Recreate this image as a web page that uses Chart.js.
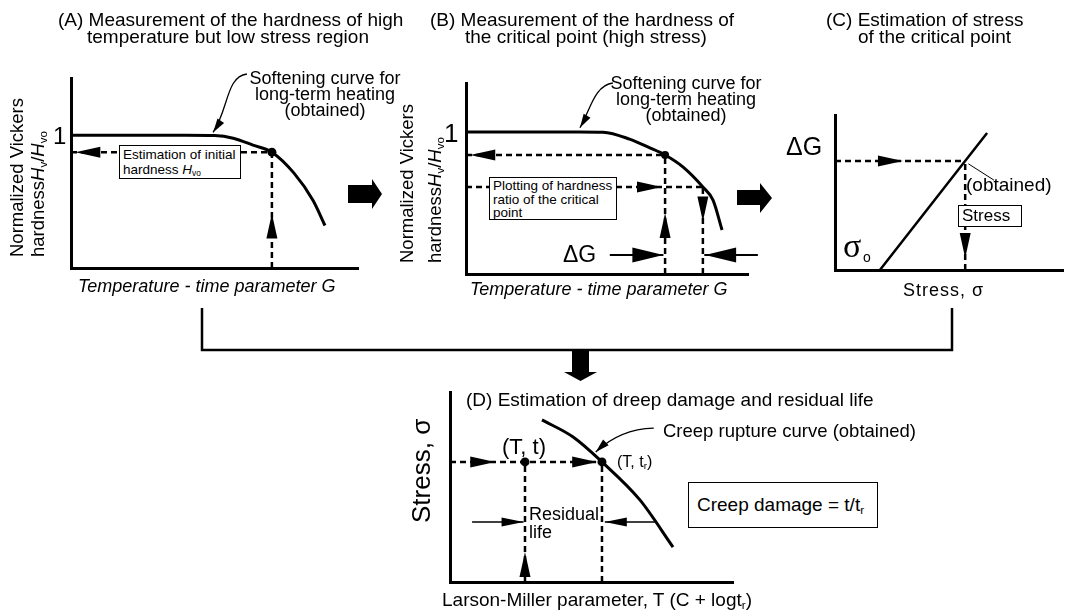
<!DOCTYPE html>
<html>
<head>
<meta charset="utf-8">
<script src="https://cdn.jsdelivr.net/npm/chart.js@4"></script>
<style>
body{margin:0;background:#fff}
#page{position:relative;width:1069px;height:610px;overflow:hidden;font-family:"Liberation Sans",Arial,sans-serif;color:#000}
#page canvas,#page svg{position:absolute;left:0;top:0}
.t{position:absolute;white-space:nowrap;line-height:1.15;z-index:2}
.rot{transform-origin:left top;transform:rotate(-90deg)}
.box{position:absolute;border:1.3px solid #000;background:#fff;z-index:2;box-sizing:border-box;white-space:nowrap}
sub{font-size:62%;vertical-align:-0.25em;line-height:0}
</style>
</head>
<body>
<div id="page">
<svg width="1069" height="610">
  <polygon points="348,185 372,185 372,179 382,194 372,209 372,203 348,203" fill="#000"/>
  <polygon points="737,190 760,190 760,183 772,198 760,213 760,205 737,205" fill="#000"/>
  <polyline points="202,308 202,350 952,350 952,308" fill="none" stroke="#000" stroke-width="2.5"/>
  <polygon points="572,350 589,350 589,372 597,372 580.5,381 564,372 572,372" fill="#000"/>
</svg>
<canvas id="cA" width="1069" height="610"></canvas>
<canvas id="cB" width="1069" height="610"></canvas>
<canvas id="cC" width="1069" height="610"></canvas>
<canvas id="cD" width="1069" height="610"></canvas>

<!-- titles -->
<div class="t" style="left:58px;top:9px;font-size:19px">(A) Measurement of the hardness of high</div>
<div class="t" style="left:87px;top:26px;font-size:19px">temperature but low stress region</div>
<div class="t" style="left:430px;top:9px;font-size:19px">(B) Measurement of the hardness of</div>
<div class="t" style="left:465px;top:26px;font-size:19px">the critical point (high stress)</div>
<div class="t" style="left:826px;top:9px;font-size:19px">(C) Estimation of stress</div>
<div class="t" style="left:858px;top:26px;font-size:19px">of the critical point</div>

<!-- panel A -->
<div class="t" style="left:225px;top:70px;width:200px;text-align:center;font-size:18px;line-height:16px">Softening curve for<br>long-term heating<br>(obtained)</div>
<div class="t" style="left:53px;top:122px;font-size:24px">1</div>
<div class="box" style="left:119px;top:145px;width:122px;height:34px;font-size:13.5px;line-height:15px;padding:1px 0 0 3px">Estimation of initial<br>hardness <i>H</i><sub>vo</sub></div>
<div class="t rot" style="left:6px;top:257px;font-size:18.5px;line-height:21px">Normalized Vickers</div>
<div class="t rot" style="left:27px;top:257px;font-size:18.5px;line-height:21px">hardness<i>H</i><sub>v</sub>/<i>H</i><sub>vo</sub></div>
<div class="t" style="left:78px;top:276px;font-size:18px;font-style:italic">Temperature - time parameter G</div>

<!-- panel B -->
<div class="t" style="left:586px;top:75px;width:200px;text-align:center;font-size:18px;line-height:16px">Softening curve for<br>long-term heating<br>(obtained)</div>
<div class="t" style="left:444px;top:119px;font-size:26px">1</div>
<div class="box" style="left:489px;top:177px;width:128px;height:43px;font-size:13.5px;line-height:13.5px;padding:1px 0 0 3px">Plotting of hardness<br>ratio of the critical<br>point</div>
<div class="t rot" style="left:396px;top:263px;font-size:18.5px;line-height:21px">Normalized Vickers</div>
<div class="t rot" style="left:424px;top:263px;font-size:18.5px;line-height:21px">hardness<i>H</i><sub>v</sub>/<i>H</i><sub>vo</sub></div>
<div class="t" style="left:563px;top:241px;font-size:23px">ΔG</div>
<div class="t" style="left:470px;top:279px;font-size:18px;font-style:italic">Temperature - time parameter G</div>

<!-- panel C -->
<div class="t" style="left:786px;top:132px;font-size:25px">ΔG</div>
<div class="t" style="left:966px;top:174px;font-size:19px">(obtained)</div>
<div class="box" style="left:958px;top:205px;width:64px;height:22px;font-size:17px;line-height:19px;padding-left:3px">Stress</div>
<div class="t" style="left:843px;top:229px;font-size:34px;line-height:1;font-family:'Liberation Serif',serif">σ</div>
<div class="t" style="left:863px;top:249px;font-size:14px">o</div>
<div class="t" style="left:903px;top:280px;font-size:18px;letter-spacing:1px">Stress, σ</div>

<!-- panel D -->
<div class="t" style="left:466px;top:389px;font-size:19px">(D) Estimation of dreep damage and residual life</div>
<div class="t" style="left:663px;top:420px;font-size:18.5px">Creep rupture curve (obtained)</div>
<div class="t" style="left:502px;top:434px;font-size:22px">(T, t)</div>
<div class="t" style="left:617px;top:453px;font-size:16px">(T, t<sub>r</sub>)</div>
<div class="t" style="left:529px;top:505px;font-size:18px;line-height:18px">Residual<br>life</div>
<div class="box" style="left:688px;top:482px;width:190px;height:46px;font-size:19px;line-height:44px;padding-left:8px">Creep damage = t/t<sub>r</sub></div>
<div class="t rot" style="left:406px;top:523px;font-size:26px;line-height:30px">Stress, σ</div>
<div class="t" style="left:442px;top:589px;font-size:19px">Larson-Miller parameter, T (C + logt<sub>r</sub>)</div>
</div>

<script>
const W=1069, H=610

// (A) softening curve: G vs normalized hardness
const aG=[0,2,4,5,5.65,6.34,7,7.77,8.43,8.85]
const aHard=[1,1,1,0.997,0.977,0.925,0.872,0.714,0.51,0.32]
const aMeas=[7,0.872]
const aHeads=[[0.15,0.872,'l'],[7,0.41,'u']]
const aLeader=[[6.13,1.46],[5.4,1.44],[5.5,1.2],[4.95,1.02]]

// (B) same curve, critical point
const bG=[0,2,4,4.86,5.8,6.5,7.06,7.7,8.4,8.76,9.08]
const bHard=[1,1,1,0.998,0.95,0.89,0.838,0.753,0.613,0.52,0.31]
const bMeas=[7.06,0.838]
const bCrit=[8.4,0.613]
const bDeltaY=0.134
const bShafts=[[5.1,7.0],[8.45,10.35]]
const bHeads=[[0.15,0.838,'l'],[6.95,0.613,'r'],[7.06,0.43,'u'],[8.4,0.37,'d'],[7.0,0.134,'r','L'],[8.48,0.134,'l','L']]
const bLeader=[[5.21,1.345],[4.55,1.33],[4.4,1.15],[4.04,1.03]]

// (C) stress vs delta G
const cStress=[1.97,6.67]
const cDG=[0,8.84]
const cCross=[5.71,7.03]
const cHeads=[[2.98,7.03,'r'],[5.71,0.77,'d']]
const cLeader=[[5.85,6.85],[6.97,5.8]]

// (D) creep rupture curve
const dLM=[3.25,4.35,5.37,6.71,7.88]
const dStress=[8.53,7.63,6.32,4.32,1.84]
const dNow=[2.65,6.32]
const dRup=[5.37,6.32]
const dLifeY=3.16
const dShafts=[[0.78,2.6],[5.47,7.24]]
const dHeads=[[1.6,6.32,'r'],[5.2,6.32,'r'],[2.65,1.58,'u'],[2.6,3.16,'r','s'],[5.47,3.16,'l','s']]
const dLeader=[[7.2,8.1],[6.0,8.05],[5.15,6.84]]

const sizes={m:[25,11],s:[22,9],L:[31,15]}
const angles={r:0,d:Math.PI/2,l:Math.PI,u:-Math.PI/2}

const head=(ctx,px,py,ang,len,wid)=>{
    const c=Math.cos(ang), s=Math.sin(ang)
    const bx=px-len*c, by=py-len*s
    ctx.beginPath()
    ctx.moveTo(px,py)
    ctx.lineTo(bx-wid/2*s,by+wid/2*c)
    ctx.lineTo(bx+wid/2*s,by-wid/2*c)
    ctx.closePath()
    ctx.fill()
}

const marks={
    id:'marks',
    afterDatasetsDraw(chart,args,opts){
        const {ctx}=chart
        const x=chart.scales.x, y=chart.scales.y
        const P=([a,b])=>[x.getPixelForValue(a),y.getPixelForValue(b)]
        ctx.save()
        ctx.fillStyle='#000'
        ctx.strokeStyle='#000'
        ;(opts.leaders||[]).forEach(l=>{
            const p=l.pts.map(P)
            ctx.lineWidth=l.w||1.3
            ctx.beginPath()
            ctx.moveTo(...p[0])
            if(p.length==4) ctx.bezierCurveTo(...p[1],...p[2],...p[3])
            else if(p.length==3) ctx.quadraticCurveTo(...p[1],...p[2])
            else ctx.lineTo(...p[1])
            ctx.stroke()
            if(l.head){
                const a=p[p.length-2], b=p[p.length-1]
                head(ctx,b[0],b[1],Math.atan2(b[1]-a[1],b[0]-a[0]),14,8)
            }
        })
        ;(opts.heads||[]).forEach(([hx,hy,dir,sz])=>{
            const [len,wid]=sizes[sz||'m']
            const [px,py]=P([hx,hy])
            head(ctx,px,py,angles[dir],len,wid)
        })
        ctx.restore()
    }
}

const pts=(xs,ys)=>xs.map((v,i)=>({x:v,y:ys[i]}))
const curve=(data,w)=>({data,showLine:true,borderColor:'#000',borderWidth:w||3,pointRadius:0,cubicInterpolationMode:'monotone',clip:false})
const dashed=(data)=>({data,showLine:true,borderColor:'#000',borderWidth:2.5,borderDash:[6,4],pointRadius:0,clip:false})
const dot=(p,r)=>({data:[{x:p[0],y:p[1]}],pointRadius:r||4.5,pointBackgroundColor:'#000',pointBorderWidth:0,clip:false})
const hLine=(p)=>dashed([{x:0,y:p[1]},{x:p[0],y:p[1]}])
const vLine=(p)=>dashed([{x:p[0],y:0},{x:p[0],y:p[1]}])

const axis=(fit)=>({min:0,grid:{display:false},ticks:{display:false},border:{color:'#000',width:3},afterFit:fit})

const make=(id,area,xMax,yMax,datasets,opts)=>new Chart(document.getElementById(id),{
    type:'scatter',
    data:{datasets},
    options:{
        responsive:false,
        animation:false,
        events:[],
        layout:{padding:{left:area[0],top:area[1],right:W-area[2],bottom:H-area[3]}},
        plugins:{legend:{display:false},tooltip:{enabled:false},marks:opts},
        scales:{
            x:{...axis(s=>{s.height=0}),max:xMax},
            y:{...axis(s=>{s.width=0}),max:yMax}
        }
    },
    plugins:[marks]
})

make('cA',[71,78,358,268],10,1.43,[
    dot(aMeas),
    curve(pts(aG,aHard)),
    hLine(aMeas),
    vLine(aMeas)
],{heads:aHeads,leaders:[{pts:aLeader,head:true}]})

make('cB',[466,83,748,274],10,1.345,[
    dot(bMeas,4),
    curve(pts(bG,bHard)),
    hLine(bMeas),
    vLine(bMeas),
    hLine(bCrit),
    vLine(bCrit),
    ...bShafts.map(s=>curve(pts(s,[bDeltaY,bDeltaY]),2))
],{heads:bHeads,leaders:[{pts:bLeader,head:true}]})

make('cC',[835,115,1063,270],10,10,[
    curve(pts(cStress,cDG),2.5),
    hLine(cCross),
    vLine(cCross)
],{heads:cHeads,leaders:[{pts:cLeader,w:1}]})

make('cD',[450,392,733,582],10,10,[
    dot(dNow),
    dot(dRup),
    curve(pts(dLM,dStress)),
    hLine(dRup),
    vLine(dNow),
    vLine(dRup),
    ...dShafts.map(s=>curve(pts(s,[dLifeY,dLifeY]),1.5))
],{heads:dHeads,leaders:[{pts:dLeader,head:true}]})
</script>
</body>
</html>
